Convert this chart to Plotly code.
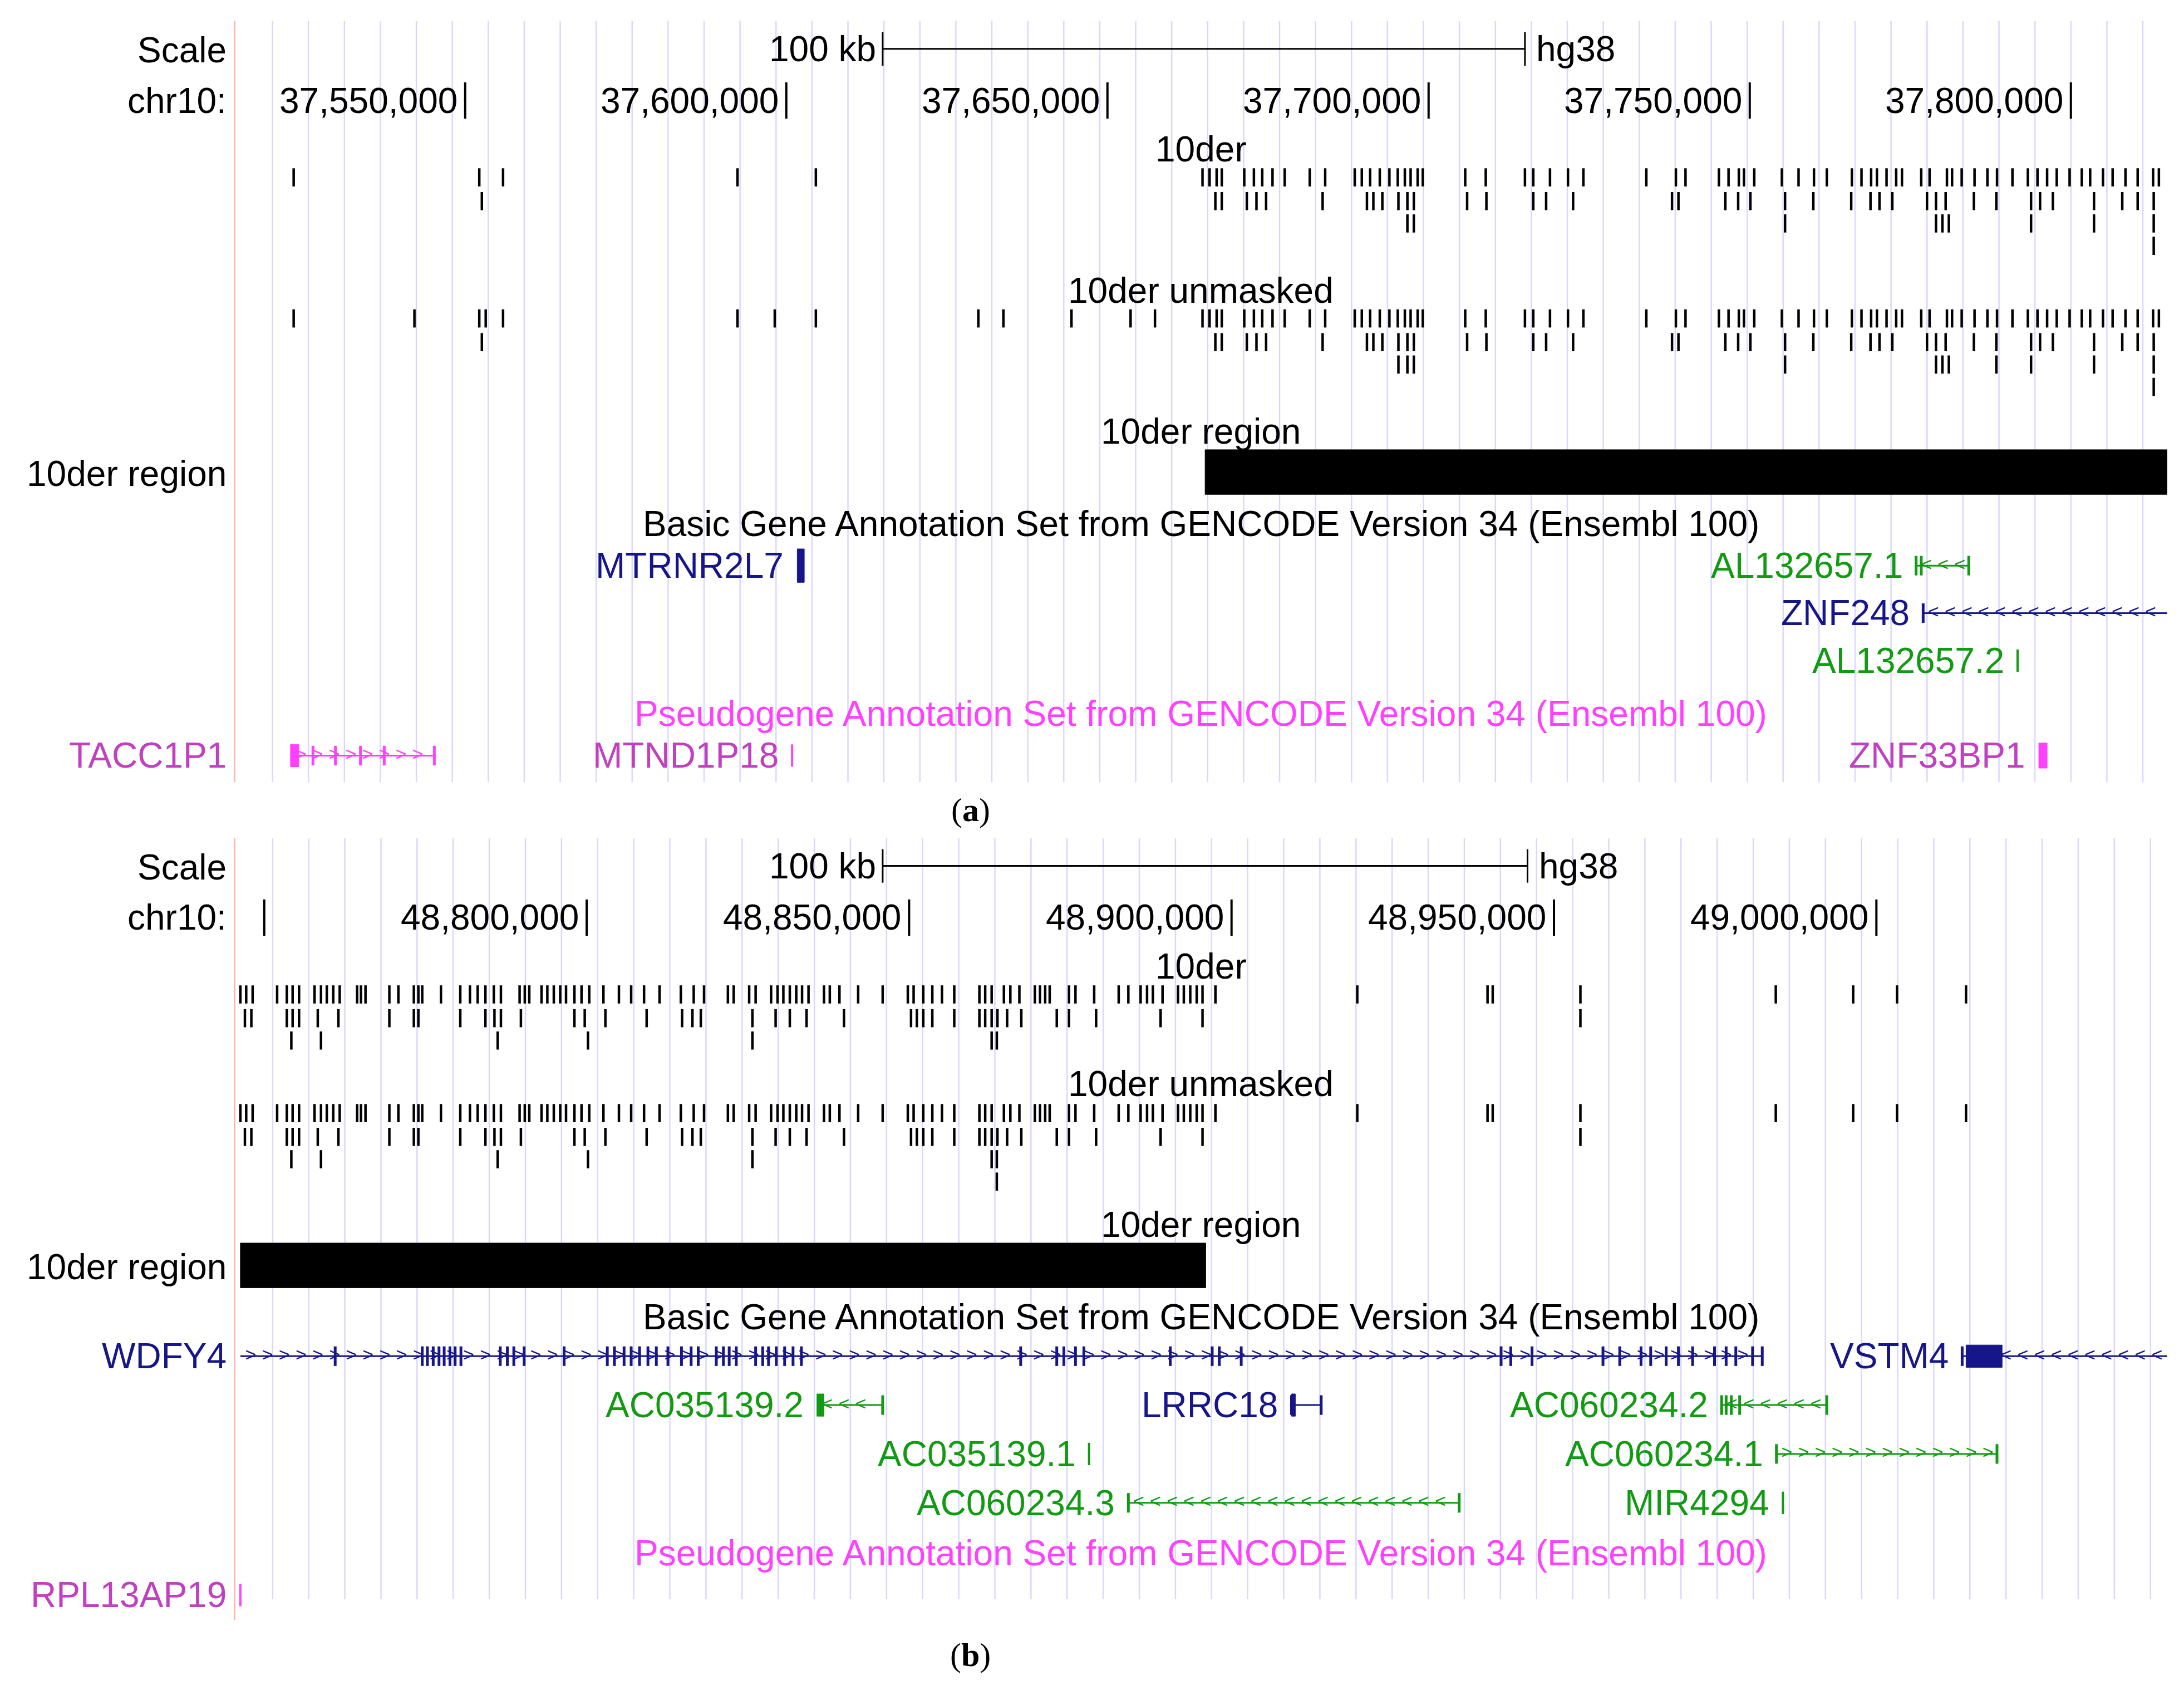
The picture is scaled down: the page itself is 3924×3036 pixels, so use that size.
import numpy as np
import plotly.graph_objects as go

# ---------------- data (positions in kb, hg38 chr10) ----------------
view_a = (37514.1, 37815.0)
view_b = (48745.4, 49045.1)

ruler_a = [37550, 37600, 37650, 37700, 37750, 37800]
ruler_b = [48750, 48800, 48850, 48900, 48950, 49000]
ruler_b_labeled = [48800, 48850, 48900, 48950, 49000]
scalebar_a = (37615.0, 37715.0)
scalebar_b = (48845.9, 48945.9)

a_der_r1 = [37523.3, 37552.2, 37555.9, 37592.4, 37604.6,
            37664.8, 37665.9, 37667.0, 37667.8, 37671.3, 37672.8, 37674.1, 37675.7, 37677.6,
            37681.5, 37683.9, 37688.5, 37689.6, 37690.9, 37692.4, 37693.9, 37695.2, 37696.3,
            37697.2, 37698.3, 37699.1, 37705.7, 37708.9, 37715.0, 37716.3, 37718.9, 37721.7,
            37724.1, 37733.9, 37738.5, 37740.0, 37745.2, 37746.7, 37748.3, 37749.1, 37750.7,
            37755.0, 37757.6, 37760.0, 37762.0, 37765.9, 37767.4, 37768.9, 37769.8, 37771.3,
            37772.8, 37773.7, 37776.7, 37778.0, 37780.7, 37781.5, 37783.0, 37785.0, 37787.0,
            37788.5, 37790.9, 37793.3, 37794.8, 37796.3, 37797.8, 37799.8, 37801.7, 37803.0,
            37805.0, 37806.5, 37808.5, 37810.4, 37812.8, 37813.7]
a_der_r2 = [37552.6, 37666.8, 37667.8, 37671.7, 37673.2, 37674.7, 37683.5, 37690.4, 37691.4,
            37692.8, 37695.3, 37696.7, 37697.7, 37706.0, 37709.0, 37716.3, 37718.3, 37722.5,
            37737.9, 37738.9, 37746.2, 37748.2, 37750.1, 37755.5, 37759.9, 37765.8, 37768.8,
            37770.2, 37772.2, 37777.6, 37779.0, 37780.5, 37784.9, 37788.4, 37793.8, 37795.2,
            37797.2, 37803.6, 37808.0, 37810.4, 37812.9]
a_der_r3 = [37696.7, 37697.7, 37755.5, 37779.0, 37780.0, 37781.0, 37793.8, 37803.6, 37812.9]
a_der_r4 = [37812.9]
a_unm_extra = [37542.1, 37553.2, 37598.2, 37629.9, 37633.8, 37644.4, 37653.6, 37657.4]
a_unm_r3 = [37695.3, 37696.7, 37697.7, 37755.5, 37779.0, 37780.0, 37781.0, 37788.4,
            37793.8, 37803.6, 37812.9]

b_der_r1 = [48746.3, 48747.2, 48748.2, 48752.0, 48753.5, 48754.4, 48755.4, 48757.8, 48758.8,
            48759.7, 48760.7, 48761.7, 48764.4, 48765.0, 48765.7, 48769.4, 48770.8, 48773.2,
            48773.9, 48774.5, 48777.4, 48780.4, 48781.9, 48783.1, 48784.3, 48785.6, 48786.7,
            48789.6, 48790.4, 48791.1, 48793.0, 48793.9, 48794.9, 48795.9, 48796.8, 48798.1,
            48799.2, 48800.4, 48802.6, 48805.0, 48806.9, 48808.9, 48811.3, 48814.6, 48816.6,
            48818.2, 48821.9, 48822.8, 48825.2, 48826.2, 48828.6, 48829.6, 48830.5, 48831.5,
            48832.5, 48833.4, 48834.4, 48836.8, 48837.7, 48839.2, 48842.1, 48845.9, 48849.8,
            48850.7, 48852.2, 48853.6, 48855.1, 48857.0, 48860.9, 48861.8, 48862.8, 48864.7,
            48865.7, 48867.1, 48869.5, 48870.3, 48871.1, 48871.8, 48874.8, 48875.8, 48878.7,
            48882.5, 48884.0, 48885.9, 48886.9, 48887.8, 48889.3, 48891.7, 48892.6, 48893.6,
            48894.6, 48895.5, 48897.5, 48919.5, 48939.7, 48940.5, 48954.1, 48984.4, 48996.4,
            49003.2, 49013.9]
b_der_r2 = [48747.0, 48748.0, 48753.5, 48754.4, 48755.4, 48758.3, 48761.5, 48769.4, 48773.2,
            48773.9, 48780.4, 48784.3, 48785.7, 48786.7, 48789.8, 48798.1, 48799.7, 48802.9,
            48809.3, 48814.8, 48816.4, 48817.7, 48825.7, 48829.3, 48831.5, 48834.1, 48839.9,
            48850.3, 48851.2, 48852.2, 48853.6, 48857.0, 48860.9, 48861.8, 48862.8, 48863.7,
            48865.2, 48867.4, 48872.9, 48874.8, 48879.0, 48889.0, 48895.5, 48954.1]
b_der_r3 = [48754.2, 48758.8, 48786.2, 48800.2, 48825.7, 48862.8, 48863.6]
b_unm_r4 = [48863.6]

# genes: (start, end, exons, strand)
wdfy4_exons = [48761.0, 48774.5, 48775.3, 48776.2, 48777.1, 48777.9, 48778.8, 48779.6, 48780.5,
               48786.6, 48787.7, 48788.7, 48790.3, 48796.5, 48803.2, 48804.3, 48805.8, 48806.9,
               48808.2, 48809.5, 48810.8, 48812.6, 48814.7, 48816.2, 48817.3, 48820.1, 48821.2,
               48822.1, 48823.2, 48826.2, 48827.3, 48828.2, 48829.4, 48830.7, 48832.0, 48833.3,
               48867.3, 48872.9, 48874.0, 48875.8, 48877.1, 48890.5, 48897.0, 48898.1, 48901.5,
               48941.8, 48943.3, 48946.6, 48957.6, 48960.2, 48963.5, 48965.0, 48967.4, 48969.3,
               48971.5, 48974.9, 48976.7, 48978.2, 48980.8, 48982.3]

BLUE = "#16168a"
GREEN = "#129a12"
MAG = "#ff40ff"
PURP = "#c040c0"
FONT = "Liberation Sans"
FS = 64
W, H = 3924, 3036
DW, DH = 1564.0, 1210.0  # reference layout units
SX, SY = -3.2, -3.2      # compensate the page margin (in layout units)

fig = go.Figure()


def px(xd):
    return (xd + SX) / DW


def py(yd):
    return 1 - (yd + SY) / DH


def ticks(xs, yc, half, xa, ya, color="black", width=4.5):
    xx, yy = [], []
    for x in xs:
        xx += [x, x, None]
        yy += [yc - half, yc + half, None]
    fig.add_trace(go.Scatter(x=xx, y=yy, mode="lines", line=dict(color=color, width=width),
                             xaxis=xa, yaxis=ya, hoverinfo="skip"))


def hline(x0, x1, y, xa, ya, color, width=3):
    fig.add_trace(go.Scatter(x=[x0, x1], y=[y, y], mode="lines", line=dict(color=color, width=width),
                             xaxis=xa, yaxis=ya, hoverinfo="skip"))


def block(x0, x1, yc, half, xa, ya, color):
    fig.add_trace(go.Scatter(x=[x0, x1, x1, x0, x0], y=[yc - half, yc - half, yc + half, yc + half, yc - half],
                             mode="lines", fill="toself", fillcolor=color, line=dict(color=color, width=1),
                             xaxis=xa, yaxis=ya, hoverinfo="skip"))


def gene(x0, x1, yc, exons, strand, xa, ya, color, thick=None):
    hline(x0, x1, yc, xa, ya, color, 3)
    ticks(exons, yc, 7, xa, ya, color, 5)
    if thick:
        block(thick[0], thick[1], yc, 8, xa, ya, color)
    if x1 - x0 > 5:
        ch = np.arange(x0 + 1.6, x1 - 1.0, 2.6)
        fig.add_trace(go.Scatter(x=ch, y=[yc] * len(ch), mode="text", text=[strand] * len(ch),
                                 textfont=dict(color=color, size=34, family=FONT),
                                 xaxis=xa, yaxis=ya, hoverinfo="skip"))


def label(x, y, text, xa, ya, color, anchor="right", shift=-22):
    fig.add_annotation(x=x, y=y, xref=xa, yref=ya, text=text, showarrow=False, xanchor=anchor,
                       yanchor="middle", xshift=shift, font=dict(color=color, size=FS, family=FONT))


def paper_label(xdisp, ydisp, text, color="black", anchor="right"):
    fig.add_annotation(x=px(xdisp), y=py(ydisp), xref="paper", yref="paper", text=text,
                       showarrow=False, xanchor=anchor, yanchor="middle",
                       font=dict(color=color, size=FS, family=FONT))


def left_label(ydisp, text, color="black"):
    paper_label(163, ydisp, text, color)


def center_label(ydisp, text, color="black"):
    paper_label(860, ydisp, text, color, "center")


def panel(off, xa, ya, view, ruler, labeled, bar):
    xr = "x" if xa == "x" else "x2"
    yr = "y" if ya == "y" else "y2"
    # background guide lines
    for g in np.arange(view[0] + 5.9, view[1], 5.6):
        fig.add_shape(type="line", x0=g, x1=g, y0=off + 15, y1=off + 560, xref=xr, yref=yr,
                      line=dict(color="#d8d8ff", width=2.5), layer="below")
    # scale bar
    hline(bar[0], bar[1], off + 35, xa, ya, "black", 3)
    ticks([bar[0], bar[1]], off + 35, 12, xa, ya, "black", 3)
    label(bar[0], off + 35, "100 kb", xr, yr, "black", shift=-10)
    label(bar[1], off + 35, "hg38", xr, yr, "black", anchor="left", shift=18)
    left_label(off + 36, "Scale")
    left_label(off + 72, "chr10:")
    ticks(ruler, off + 72, 13, xa, ya, "black", 4)
    for r in labeled:
        label(r, off + 72, f"{int(r * 1000):,}", xr, yr, "black", shift=-12)
    center_label(off + 107, "10der")


panel(0, "x", "y", view_a, ruler_a, ruler_a, scalebar_a)
panel(585, "x2", "y2", view_b, ruler_b, ruler_b_labeled, scalebar_b)

# ---- panel a tracks ----
ticks(a_der_r1, 127, 6.5, "x", "y")
ticks(a_der_r2, 144, 6.5, "x", "y")
ticks(a_der_r3, 160, 6.5, "x", "y")
ticks(a_der_r4, 176, 6.5, "x", "y")
center_label(208, "10der unmasked")
ticks(sorted(a_der_r1 + a_unm_extra), 228, 6.5, "x", "y")
ticks(a_der_r2, 245, 6.5, "x", "y")
ticks(a_unm_r3, 261, 6.5, "x", "y")
ticks(a_der_r4, 277, 6.5, "x", "y")
center_label(309, "10der region")
block(37665.2, 37815.0, 338, 16, "x", "y", "black")
left_label(339, "10der region")
center_label(375, "Basic Gene Annotation Set from GENCODE Version 34 (Ensembl 100)")
block(37601.7, 37602.8, 405, 12, "x", "y", BLUE)
label(37601.7, 405, "MTRNR2L7", "x", "y", BLUE)
gene(37775.9, 37784.1, 405, [37775.9, 37776.7, 37784.1], "<", "x", "y", GREEN)
label(37775.9, 405, "AL132657.1", "x", "y", GREEN)
gene(37777.0, 37815.0, 439, [37777.0], "<", "x", "y", BLUE)
label(37777.0, 439, "ZNF248", "x", "y", BLUE)
ticks([37791.7], 473, 8, "x", "y", GREEN, 4)
label(37791.7, 473, "AL132657.2", "x", "y", GREEN)
center_label(511, "Pseudogene Annotation Set from GENCODE Version 34 (Ensembl 100)", MAG)
gene(37522.8, 37545.2, 541, [37526.3, 37529.8, 37533.7, 37537.4, 37545.2], ">", "x", "y", MAG,
     thick=(37522.8, 37524.1))
left_label(541, "TACC1P1", PURP)
ticks([37600.9], 541, 8, "x", "y", MAG, 4)
label(37600.9, 541, "MTND1P18", "x", "y", PURP)
block(37795.0, 37796.3, 541, 9, "x", "y", MAG)
label(37795.0, 541, "ZNF33BP1", "x", "y", PURP)

# ---- panel b tracks ----
ticks(b_der_r1, 712, 6.5, "x2", "y2")
ticks(b_der_r2, 729, 6.5, "x2", "y2")
ticks(b_der_r3, 745, 6.5, "x2", "y2")
center_label(776, "10der unmasked")
ticks(b_der_r1, 797, 6.5, "x2", "y2")
ticks(b_der_r2, 814, 6.5, "x2", "y2")
ticks(b_der_r3, 830, 6.5, "x2", "y2")
ticks(b_unm_r4, 846, 6.5, "x2", "y2")
center_label(877, "10der region")
block(48746.3, 48896.0, 906, 16, "x2", "y2", "black")
left_label(907, "10der region")
center_label(943, "Basic Gene Annotation Set from GENCODE Version 34 (Ensembl 100)")
gene(48746.3, 48982.3, 971, wdfy4_exons, ">", "x2", "y2", BLUE)
left_label(971, "WDFY4", BLUE)
gene(49013.3, 49045.1, 971, [49013.3], "<", "x2", "y2", BLUE, thick=(49013.9, 49019.5))
label(49013.3, 971, "VSTM4", "x2", "y2", BLUE)
gene(48835.7, 48845.9, 1006, [48845.9], "<", "x2", "y2", GREEN, thick=(48835.7, 48836.8))
label(48835.7, 1006, "AC035139.2", "x2", "y2", GREEN)
gene(48909.3, 48913.9, 1006, [48909.3, 48913.9], "", "x2", "y2", BLUE, thick=(48909.3, 48909.9))
label(48909.3, 1006, "LRRC18", "x2", "y2", BLUE)
gene(48976.0, 48992.3, 1006, [48976.0, 48976.7, 48977.5, 48978.8, 48992.3], "<", "x2", "y2", GREEN)
label(48976.0, 1006, "AC060234.2", "x2", "y2", GREEN)
ticks([48877.9], 1041, 8, "x2", "y2", GREEN, 4)
label(48877.9, 1041, "AC035139.1", "x2", "y2", GREEN)
gene(48984.5, 49018.7, 1041, [48984.5, 49018.7], ">", "x2", "y2", GREEN)
label(48984.5, 1041, "AC060234.1", "x2", "y2", GREEN)
gene(48884.0, 48935.3, 1076, [48884.0, 48935.3], "<", "x2", "y2", GREEN)
label(48884.0, 1076, "AC060234.3", "x2", "y2", GREEN)
ticks([48985.5], 1076, 8, "x2", "y2", GREEN, 4)
label(48985.5, 1076, "MIR4294", "x2", "y2", GREEN)
center_label(1112, "Pseudogene Annotation Set from GENCODE Version 34 (Ensembl 100)", MAG)
ticks([48746.3], 1142, 8, "x2", "y2", MAG, 4)
left_label(1142, "RPL13AP19", PURP)

# pink left borders
for y0, y1 in [(15, 560), (600, 1160)]:
    fig.add_shape(type="line", x0=px(168), x1=px(168), y0=py(y0), y1=py(y1),
                  xref="paper", yref="paper", line=dict(color="#ffb4b4", width=3))

for t, y in [("a", 580), ("b", 1185)]:
    fig.add_annotation(x=px(695), y=py(y), xref="paper", yref="paper", showarrow=False,
                       yanchor="middle", text=f"(<b>{t}</b>)",
                       font=dict(size=60, color="black", family="Liberation Serif"))

ax = dict(showgrid=False, zeroline=False, showticklabels=False, ticks="", showline=False)
fig.update_layout(
    width=W, height=H, margin=dict(l=0, r=0, t=0, b=0),
    paper_bgcolor="white", plot_bgcolor="white", showlegend=False,
    xaxis=dict(ax, domain=[px(168), px(1552)], range=list(view_a)),
    yaxis=dict(ax, domain=[py(560), py(15)], range=[560, 15]),
    xaxis2=dict(ax, domain=[px(168), px(1552)], range=list(view_b), anchor="y2"),
    yaxis2=dict(ax, domain=[py(1160), py(600)], range=[1160, 600], anchor="x2"),
)

fig.write_html("out.html")
